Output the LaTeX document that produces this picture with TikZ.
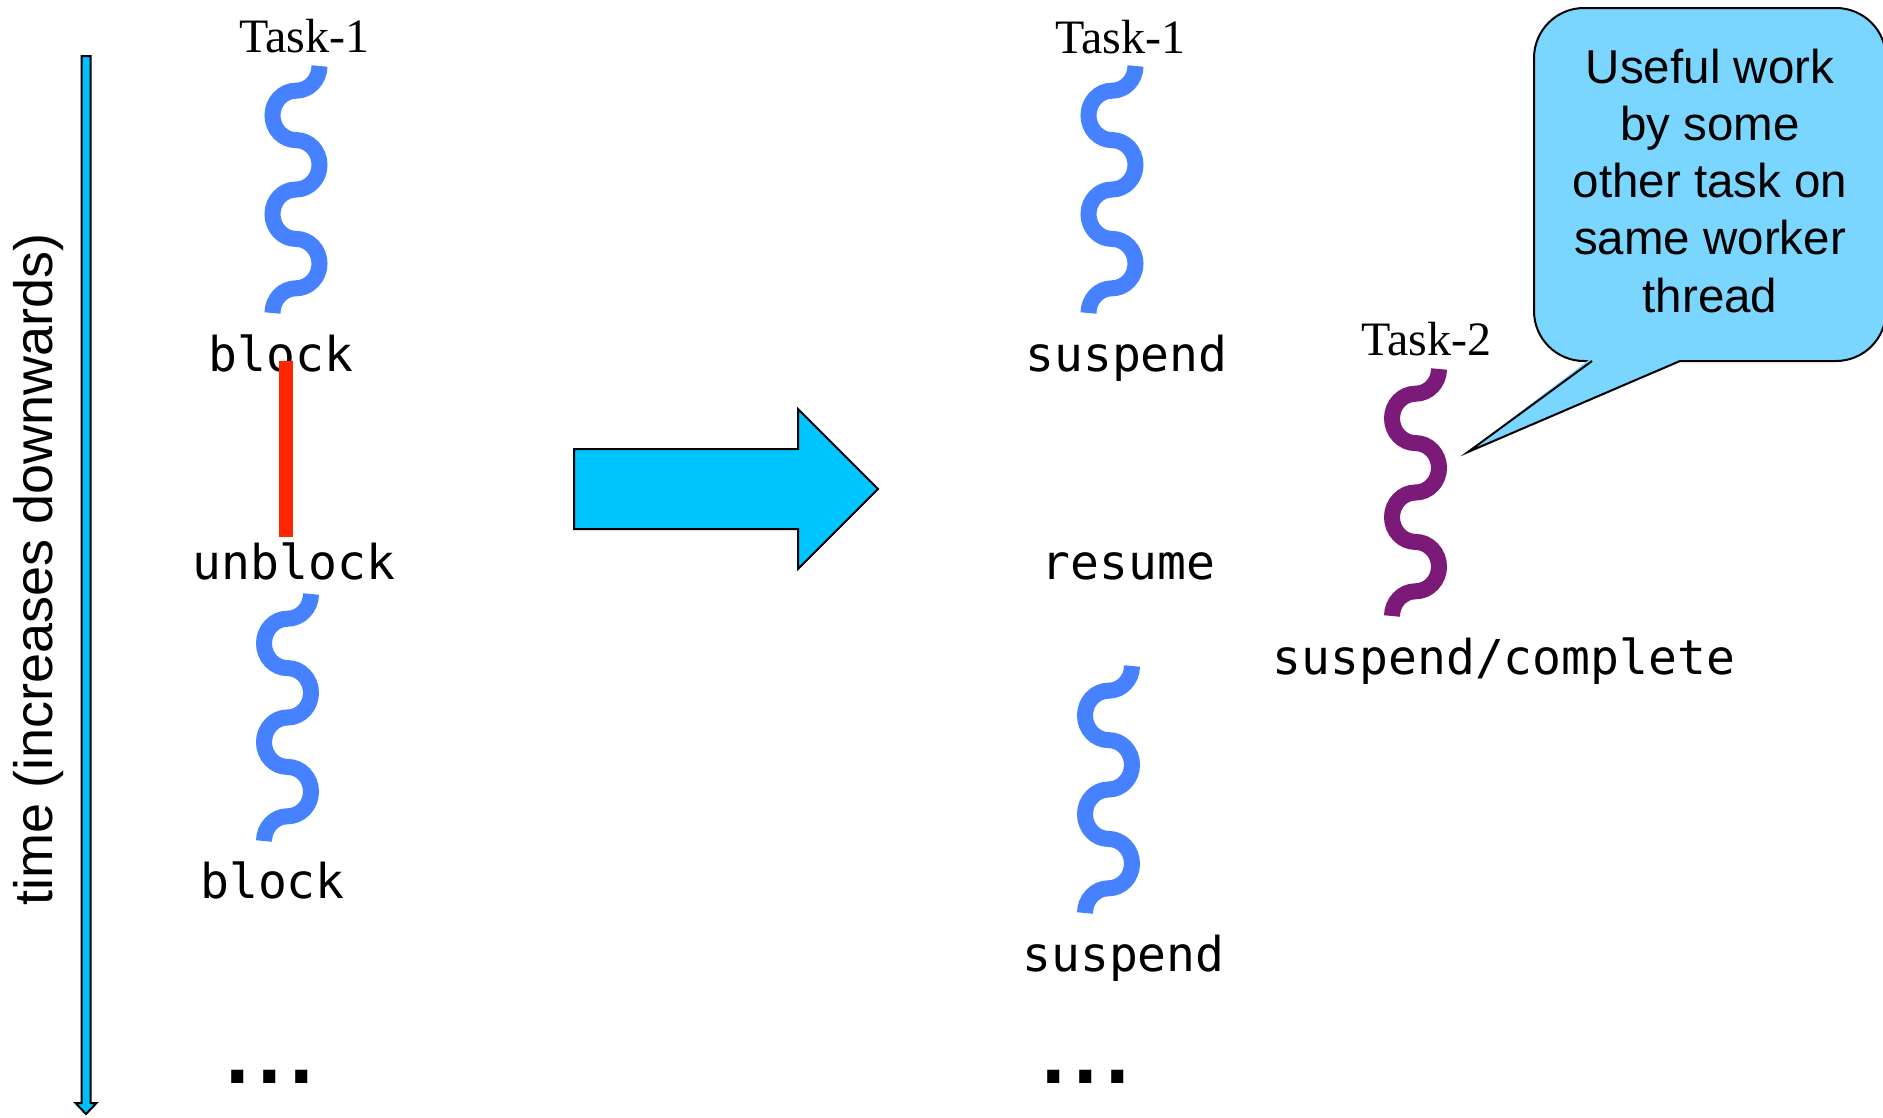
\documentclass[tikz,border=0pt]{standalone}
\usepackage{fontspec}
\setmainfont{Liberation Serif}
\newfontfamily\helvfont{Liberation Sans}
\newfontfamily\monofont{DejaVu Sans Mono}
\definecolor{waveblue}{RGB}{70,130,255}
\definecolor{wavepurple}{RGB}{123,26,120}
\definecolor{barred}{RGB}{255,38,0}
\definecolor{arrowcyan}{RGB}{0,197,255}
\definecolor{timecyan}{RGB}{0,191,255}
\definecolor{calloutblue}{RGB}{122,213,255}
\newcommand\bigdots{.\kern-12.5pt.\kern-12.5pt.}
\begin{document}
\begin{tikzpicture}[x=1pt,y=-1pt,
  tasklabel/.style={font=\fontsize{48}{55}\selectfont, anchor=base, inner sep=0pt},
  evlabel/.style={font=\monofont\fontsize{48}{55}\selectfont, anchor=base, inner sep=0pt},
  dotslabel/.style={font=\monofont\bfseries\fontsize{74}{80}\selectfont, anchor=base, inner sep=0pt},
  timelabel/.style={font=\helvfont\fontsize{54}{60}\selectfont, rotate=90, anchor=base, inner sep=0pt},
  callouttext/.style={font=\helvfont\fontsize{47.5}{57.25}\selectfont, align=center, anchor=base, inner sep=0pt},
  wave/.style={line width=16pt},
  blockbar/.style={line width=14pt, barred},
  blockarrow/.style={fill=arrowcyan, draw=black, line width=2pt, line join=miter},
  timearrow/.style={fill=timecyan, draw=black, line width=2pt, line join=miter},
  calloutshape/.style={fill=calloutblue, draw=black, line width=2pt},
  pics/wavy/.style={code={
    \draw[wave] (0,0)
      .. controls (0,13.64) and (-10.52,24.7) .. (-23.5,24.7)
      .. controls (-36.48,24.7) and (-47,35.76) .. (-47,49.4)
      .. controls (-47,63.04) and (-36.48,74.1) .. (-23.5,74.1)
      .. controls (-10.52,74.1) and (0,85.16) .. (0,98.8)
      .. controls (0,112.44) and (-10.52,123.5) .. (-23.5,123.5)
      .. controls (-36.48,123.5) and (-47,134.56) .. (-47,148.2)
      .. controls (-47,161.84) and (-36.48,172.9) .. (-23.5,172.9)
      .. controls (-10.52,172.9) and (0,183.96) .. (0,197.6)
      .. controls (0,211.24) and (-10.52,222.3) .. (-23.5,222.3)
      .. controls (-36.48,222.3) and (-47,233.36) .. (-47,247);
  }}]
\useasboundingbox (0,0) rectangle (1883,1117);

% time axis
\draw[timearrow] (81.5,56) -- (90.5,56) -- (90.5,1103) -- (96.5,1103) -- (86,1114)
  -- (75.5,1103) -- (81.5,1103) -- cycle;
\node[timelabel] (time) at (52,569.5) {time (increases downwards)};

% left column: blocking task
\node[tasklabel] (t1a) at (304.5,52) {Task-1};
\pic[waveblue] (w1) at (319.5,66) {wavy};
\node[evlabel] (blockA) at (281,371) {block};
\coordinate (bartop) at (286,361);
\coordinate (barbot) at (286,537);
\draw[blockbar] (bartop) -- (barbot);
\node[evlabel] (unblock) at (294,579) {unblock};
\pic[waveblue] (w2) at (311,594) {wavy};
\node[evlabel] (blockB) at (272.5,898) {block};
\node[dotslabel] (dotsL) at (270,1083) {\bigdots};

% big arrow
\draw[blockarrow] (574,449) -- (798,449) -- (798,409) -- (878,489) -- (798,569)
  -- (798,529) -- (574,529) -- cycle;

% right column: suspending task
\node[tasklabel] (t1b) at (1120,53) {Task-1};
\pic[waveblue] (w3) at (1135.5,66) {wavy};
\node[evlabel] (suspA) at (1126.5,371) {suspend};
\node[evlabel] (resume) at (1128.5,579) {resume};
\pic[waveblue] (w5) at (1132,666) {wavy};
\node[evlabel] (suspB) at (1123.5,971) {suspend};
\node[dotslabel] (dotsR) at (1086,1083) {\bigdots};

% task 2
\node[tasklabel] (t2) at (1426,355) {Task-2};
\pic[wavepurple] (w4) at (1439,369) {wavy};
\node[evlabel] (suspC) at (1504,674) {suspend/complete};

% callout
\draw[calloutshape, rounded corners=50pt] (1534,8) rectangle (1886,361);
\coordinate (ptrL) at (1592,361);
\coordinate (ptrR) at (1680,361);
\coordinate (ptrTip) at (1468,452);
\fill[calloutblue] (1590,359) -- (ptrTip) -- (1683,359) -- cycle;
\draw[black, line width=2pt, line join=miter] (ptrL) -- (ptrTip) -- (ptrR);
\node[callouttext] (note) at (1710,312) {Useful work\\by some\\other task on\\same worker\\thread};
\end{tikzpicture}
\end{document}
